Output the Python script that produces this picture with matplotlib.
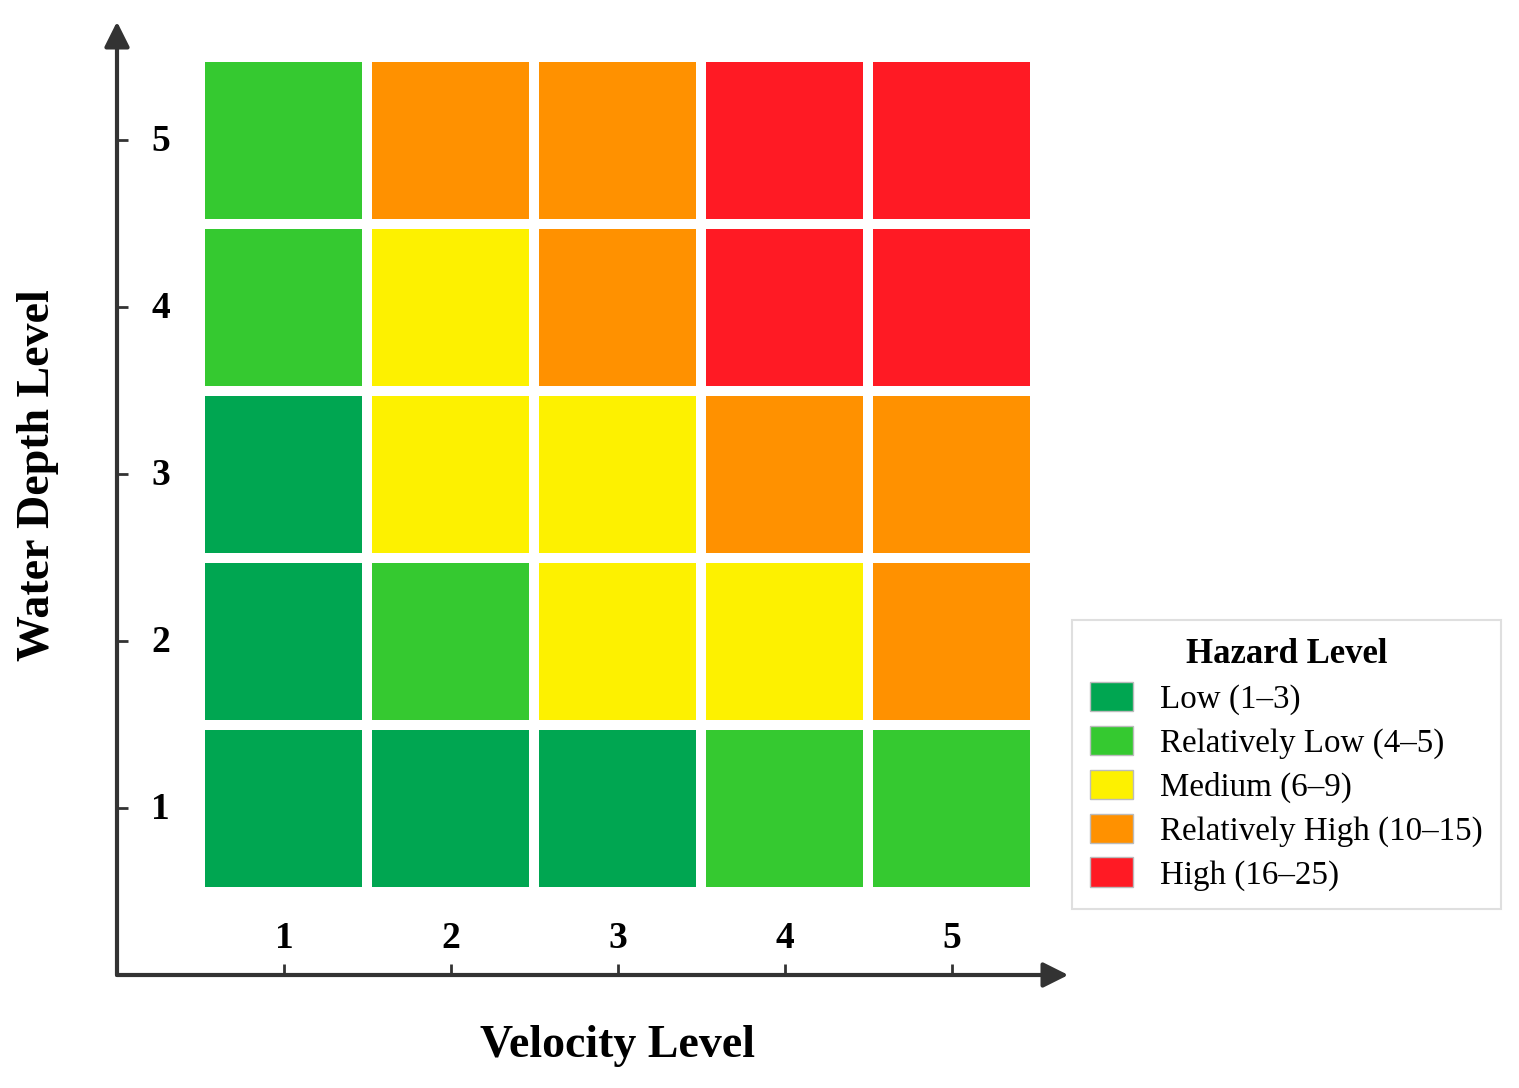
import matplotlib.pyplot as plt
from matplotlib.patches import Rectangle, Patch

plt.rcParams['font.family'] = ['Liberation Serif', 'DejaVu Serif']

# levels on both axes
velocity_levels = [1, 2, 3, 4, 5]
depth_levels = [1, 2, 3, 4, 5]

# hazard class per cell, rows = depth 1..5, cols = velocity 1..5
# 0 low, 1 relatively low, 2 medium, 3 relatively high, 4 high
hazard_class = [
    [0, 0, 0, 1, 1],
    [0, 1, 2, 2, 3],
    [0, 2, 2, 3, 3],
    [1, 2, 3, 4, 4],
    [1, 3, 3, 4, 4],
]

class_names = ['Low (1\u20133)', 'Relatively Low (4\u20135)', 'Medium (6\u20139)',
               'Relatively High (10\u201315)', 'High (16\u201325)']
class_colors = ['#00a651', '#35c930', '#fdf100', '#ff9100', '#ff1a24']

fig = plt.figure(figsize=(15.19, 10.88), dpi=100)
ax = fig.add_axes([117/1519, 113/1088, 948/1519, 950/1088])
ax.set_xlim(0, 5.68)
ax.set_ylim(0, 5.69)

cell = 0.94
for r, d in enumerate(depth_levels):
    for c, v in enumerate(velocity_levels):
        ax.add_patch(Rectangle((v - cell/2, d - cell/2), cell, cell,
                               facecolor=class_colors[hazard_class[r][c]], edgecolor='none'))

for s in ax.spines.values():
    s.set_visible(False)

axis_col = '#333333'
ax.annotate('', xy=(5.7, 0), xytext=(0, 0), xycoords='data',
            arrowprops=dict(arrowstyle='-|>', color=axis_col, lw=3, mutation_scale=38,
                            shrinkA=0, shrinkB=0), annotation_clip=False)
ax.annotate('', xy=(0, 5.71), xytext=(0, 0), xycoords='data',
            arrowprops=dict(arrowstyle='-|>', color=axis_col, lw=3, mutation_scale=38,
                            shrinkA=0, shrinkB=0), annotation_clip=False)

ax.set_xticks(velocity_levels)
ax.set_yticks(depth_levels)
ax.set_xticklabels([])
ax.set_yticklabels([])
ax.tick_params(direction='in', length=8, width=2, color=axis_col)

for v in velocity_levels:
    ax.text(v, 0.22, str(v), ha='center', va='center', fontsize=27, fontweight='bold')
for d in depth_levels:
    ax.text(0.26, d - 0.01, str(d), ha='center', va='center', fontsize=27, fontweight='bold')

fig.text(617/1519, 1 - 1046/1088, 'Velocity Level', ha='center', va='center',
         fontsize=33, fontweight='bold')
fig.text(38/1519, 1 - 475/1088, 'Water Depth Level', ha='center', va='center',
         rotation=90, fontsize=33, fontweight='bold')

handles = [Patch(facecolor=col, edgecolor='#bbbbbb', label=name)
           for col, name in zip(class_colors, class_names)]
leg = fig.legend(handles=handles, title='Hazard Level', loc='upper left',
                 bbox_to_anchor=(1072/1519, 1 - 620/1088), borderaxespad=0,
                 fontsize=23.8, title_fontproperties={'weight': 'bold', 'size': 25},
                 frameon=True, fancybox=False, edgecolor='#d8d8d8',
                 handlelength=1.3, handleheight=1.0, handletextpad=0.8,
                 labelspacing=0.32, borderpad=0.55)
leg.get_frame().set_linewidth(1.5)

fig.savefig('out.png', dpi=100)
